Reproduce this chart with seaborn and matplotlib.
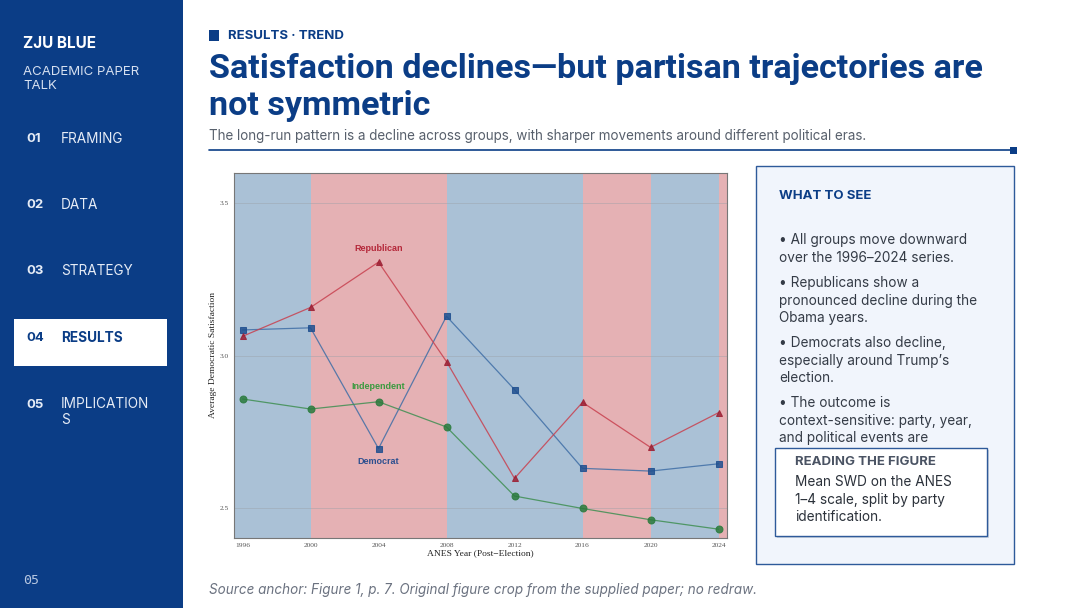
import pandas as pd
import matplotlib.pyplot as plt
import seaborn as sns
from matplotlib.patches import Rectangle

# Data
years = [1996, 2000, 2004, 2008, 2012, 2016, 2020, 2024]
democrat = [3.084, 3.091, 2.694, 3.129, 2.888, 2.629, 2.620, 2.644]
republican = [3.063, 3.158, 3.307, 2.980, 2.596, 2.846, 2.698, 2.812]
independent = [2.857, 2.824, 2.848, 2.765, 2.538, 2.497, 2.460, 2.429]

# presidential eras shading: (start, end, party)
era_starts = [1995.5, 2000, 2008, 2016, 2020, 2024]
era_ends = [2000, 2008, 2016, 2020, 2024, 2024.5]
era_party = ["D", "R", "D", "R", "D", "R"]

y_ticks = [2.5, 3.0, 3.5]
x_ticks = years

nav_nums = ["01", "02", "03", "04", "05"]
nav_labels = ["FRAMING", "DATA", "STRATEGY", "RESULTS", "IMPLICATION\nS"]

bullets = [
    "\u2022 All groups move downward\nover the 1996\u20132024 series.",
    "\u2022 Republicans show a\npronounced decline during the\nObama years.",
    "\u2022 Democrats also decline,\nespecially around Trump\u2019s\nelection.",
    "\u2022 The outcome is\ncontext-sensitive: party, year,\nand political events are",
]

df = pd.DataFrame({
    "year": years * 3,
    "swd": democrat + republican + independent,
    "party": ["Democrat"] * 8 + ["Republican"] * 8 + ["Independent"] * 8,
})

sns.set_style("white")
plt.rcParams['font.family'] = ['Inter', 'DejaVu Sans']

W, H = 1080, 608
fig = plt.figure(figsize=(W / 100, H / 100), dpi=100)
fig.patch.set_facecolor("white")

NAVY = "#0b3d86"


def fx(x):
    return x / W


def fy(y):
    return 1 - y / H


def txt(x, y, s, **kw):
    kw.setdefault("va", "center")
    kw.setdefault("ha", "left")
    fig.text(fx(x), fy(y), s, **kw)


def rect(x0, y0, x1, y1, **kw):
    fig.patches.append(Rectangle((fx(x0), fy(y1)), fx(x1) - fx(x0), fy(y0) - fy(y1),
                                 transform=fig.transFigure, figure=fig, **kw))


# ---- sidebar ----
rect(0, 0, 183, 608, facecolor=NAVY, edgecolor="none", zorder=0)
txt(23, 44, "ZJU BLUE", color="white", fontsize=11, fontweight="bold")
txt(23, 79, "ACADEMIC PAPER\nTALK", color="#d6e0f0", fontsize=9.5, linespacing=1.15)
nav_y = [139, 205, 271, 338, 412]
for num, lab, yy in zip(nav_nums, nav_labels, nav_y):
    active = lab == "RESULTS"
    c = NAVY if active else "#e6ecf6"
    if active:
        rect(14, 319, 167, 366, facecolor="white", edgecolor="none", zorder=1)
    ny = yy - 7 if "\n" in lab else yy
    txt(26, ny, num, color=c, fontsize=9.5, fontweight="bold", zorder=2)
    txt(61, yy, lab, color=c, fontsize=9.8, fontweight="bold" if active else "normal",
        linespacing=1.15, zorder=2)
txt(23, 580, "05", color="#b8c8e2", fontsize=9.5, family="DejaVu Sans Mono")

# ---- header ----
rect(209, 30, 219, 41, facecolor=NAVY, edgecolor="none")
txt(228, 36, "RESULTS \u00b7 TREND", color=NAVY, fontsize=9.5, fontweight="bold")
title_font = ["Roboto", "DejaVu Sans"]
txt(209, 69, "Satisfaction declines\u2014but partisan trajectories are", color=NAVY,
    fontsize=24.6, fontweight="bold", family=title_font)
txt(209, 106, "not symmetric", color=NAVY, fontsize=24.6, fontweight="bold",
    family=title_font)
txt(209, 136, "The long-run pattern is a decline across groups, with sharper movements around "
    "different political eras.", color="#58606c", fontsize=9.7)
fig.add_artist(plt.Line2D([fx(209), fx(1013)], [fy(150), fy(150)], color=NAVY, lw=1.2,
                          transform=fig.transFigure))
rect(1010, 147, 1017, 154, facecolor=NAVY, edgecolor="none")

# ---- right panel ----
rect(756, 166, 1014, 564, facecolor="#f1f5fc", edgecolor="#2e5a9a", lw=1.0)
txt(779, 196, "WHAT TO SEE", color=NAVY, fontsize=9.5, fontweight="bold")
by = [233, 276, 336, 396]
for b, yy in zip(bullets, by):
    txt(779, yy, b, color="#343b46", fontsize=9.8, va="top", linespacing=1.32)
rect(777, 450, 989, 538, facecolor="#c9d2de", edgecolor="none")
rect(775, 448, 987, 536, facecolor="white", edgecolor="#2e5a9a", lw=1.0)
txt(795, 462, "READING THE FIGURE", color="#4a5363", fontsize=9.5, fontweight="bold")
txt(795, 475, "Mean SWD on the ANES\n1\u20134 scale, split by party\nidentification.",
    color="#2b313a", fontsize=9.8, va="top", linespacing=1.32)

# ---- footer ----
txt(209, 590, "Source anchor: Figure 1, p. 7. Original figure crop from the supplied paper; "
    "no redraw.", color="#6b7280", fontsize=9.7, style="italic")

# ---- chart ----
ax = fig.add_axes([fx(234), fy(538), fx(727) - fx(234), fy(173) - fy(538)])
era_col = {"D": "#aac1d6", "R": "#e5b1b4"}
for s, e, p in zip(era_starts, era_ends, era_party):
    ax.axvspan(s, e, color=era_col[p], lw=0, zorder=0)
for t in y_ticks:
    ax.axhline(t, color="#9aa0a8", lw=0.6, alpha=0.5, zorder=1)

styles = {
    "Democrat": ("#3f6ea6", "#1f4f8f", "s"),
    "Republican": ("#c8414f", "#9c1f33", "^"),
    "Independent": ("#3f8f52", "#2a7a3c", "o"),
}
for party, (lc, mc, mk) in styles.items():
    sub = df[df["party"] == party]
    sns.lineplot(data=sub, x="year", y="swd", ax=ax, color=lc, lw=0.9, alpha=0.85,
                 marker=mk, markersize=5, markerfacecolor=mc, markeredgecolor=mc,
                 zorder=3)

# labels near 2004
i04 = years.index(2004)
lab_font = dict(fontsize=6.5, fontweight="bold", ha="center", va="center",
                family=["Liberation Sans", "DejaVu Sans"])
ax.text(2004, republican[i04] + 0.045, "Republican", color="#b5283a", **lab_font)
ax.text(2004, independent[i04] + 0.050, "Independent", color="#3a9a3f", **lab_font)
ax.text(2004, democrat[i04] - 0.043, "Democrat", color="#2c4f8f", **lab_font)

ax.set_xlim(1995.5, 2024.5)
ax.set_ylim(2.40, 3.60)
ax.set_xticks(x_ticks)
ax.set_yticks(y_ticks)
ax.set_yticklabels(["2.5", "3.0", "3.5"])
serif = ["Liberation Serif", "DejaVu Serif"]
ax.tick_params(axis="both", labelsize=5.3, colors="#555555", length=2, width=0.6, pad=1.5)
for lab in ax.get_xticklabels() + ax.get_yticklabels():
    lab.set_family(serif)
ax.set_xlabel("ANES Year (Post\u2212Election)", fontsize=6.8, family=serif, color="#222222",
              labelpad=1)
ax.set_ylabel("Average Democratic Satisfaction", fontsize=6.8, family=serif, color="#222222",
              labelpad=2)
for sp in ax.spines.values():
    sp.set_color("#777777")
    sp.set_linewidth(0.8)

fig.savefig("out.png", dpi=100)
